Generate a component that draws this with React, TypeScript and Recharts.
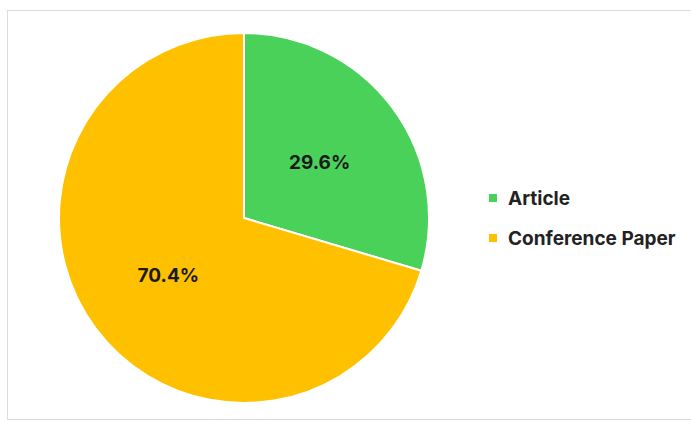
import { Legend, Pie, PieChart, Cell } from "recharts";

const categories = ["Article", "Conference Paper"];
const shares = [29.6, 70.4];
const colors = ["#4AD15A", "#FFC000"];

const rows = categories.map((name, i) => ({ name, value: shares[i] }));

const RAD = Math.PI / 180;

/** Percentage label at half the radius, like the Excel default. */
function PctLabel(props: {
  cx?: number;
  cy?: number;
  midAngle?: number;
  outerRadius?: number;
  value?: number;
}) {
  const { cx = 0, cy = 0, midAngle = 0, outerRadius = 0, value = 0 } = props;
  const r = outerRadius * 0.51;
  const x = cx + r * Math.cos(-midAngle * RAD);
  const y = cy + r * Math.sin(-midAngle * RAD);
  return (
    <text
      x={x}
      y={y + 1}
      textAnchor="middle"
      dominantBaseline="central"
      fill="#1a1a1a"
      fontFamily="Inter, 'Liberation Sans', sans-serif"
      fontSize={19}
      fontWeight={700}
    >
      {value.toFixed(1)}%
    </text>
  );
}

function SideLegend() {
  return (
    <div style={{ fontFamily: "Inter, 'Liberation Sans', sans-serif" }}>
      {rows.map((r, i) => (
        <div
          key={r.name}
          style={{ display: "flex", alignItems: "center", height: 40 }}
        >
          <span
            style={{
              width: 8,
              height: 8,
              background: colors[i],
              marginRight: 11,
              display: "inline-block",
            }}
          />
          <span style={{ fontSize: 19, fontWeight: 700, color: "#222" }}>
            {r.name}
          </span>
        </div>
      ))}
    </div>
  );
}

export default function App() {
  return (
    <div style={{ position: "relative", width: 691, height: 422, background: "#fff" }}>
      <style>{"body{margin:0}"}</style>
      <div
        style={{
          position: "absolute",
          left: 7,
          top: 10,
          width: 700,
          height: 410,
          border: "1px solid #dcdcdc",
          boxSizing: "border-box",
        }}
      />
      <div style={{ position: "absolute", left: 0, top: 0 }}>
        <PieChart
          width={691}
          height={422}
          margin={{ top: 0, right: 0, bottom: 0, left: 0 }}
        >
          <Pie
            data={rows}
            dataKey="value"
            nameKey="name"
            cx={244}
            cy={218}
            outerRadius={185}
            startAngle={90}
            endAngle={-270}
            stroke="#ffffff"
            strokeWidth={2}
            label={<PctLabel />}
            labelLine={false}
            isAnimationActive={false}
          >
            {rows.map((r, i) => (
              <Cell key={r.name} fill={colors[i]} />
            ))}
          </Pie>
          <Legend
            content={<SideLegend />}
            wrapperStyle={{ left: 489, top: 178, width: 202 }}
          />
        </PieChart>
      </div>
    </div>
  );
}
